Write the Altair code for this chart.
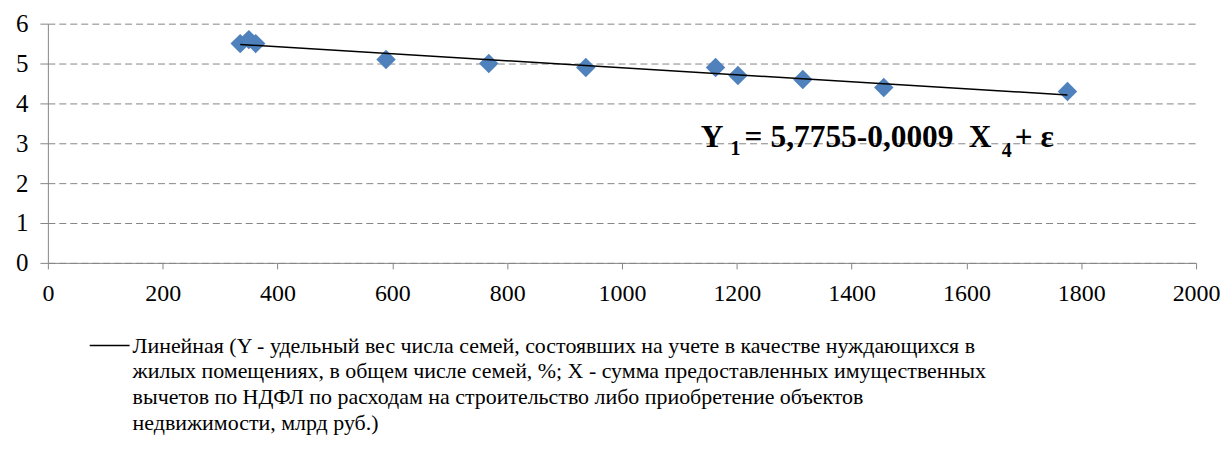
import altair as alt
import pandas as pd

# ---- data ----
x_vals = [335, 350, 362, 589, 768, 937, 1163, 1202, 1315, 1456, 1776]
y_vals = [5.5, 5.6, 5.5, 5.1, 5.0, 4.9, 4.9, 4.7, 4.6, 4.4, 4.3]
x_ticks = [0, 200, 400, 600, 800, 1000, 1200, 1400, 1600, 1800, 2000]
y_ticks = [0, 1, 2, 3, 4, 5, 6]
legend_lines = [
    "Линейная (Y - удельный вес числа семей, состоявших на учете в качестве нуждающихся в",
    "жилых помещениях, в общем числе семей, %; X - сумма предоставленных имущественных",
    "вычетов по НДФЛ по расходам на строительство либо приобретение объектов",
    "недвижимости, млрд руб.)",
]
eq_parts = ["Y", "1", "=", "5,7755-0,0009", "X", "4", "+ ε"]

df = pd.DataFrame({"x": x_vals, "y": y_vals})

FONT = "Liberation Serif"
GRAY = "#868686"
W, H = 1152, 240

x_axis = alt.Axis(values=x_ticks, title=None, grid=False, tickSize=6,
                  labelPadding=13, labelFontSize=24, labelFont=FONT,
                  labelColor="black", domainColor=GRAY, tickColor=GRAY,
                  labelFlush=False, labelOverlap=False, format="d")
y_axis = alt.Axis(values=y_ticks, title=None, grid=True, gridDash=[7, 4],
                  gridColor=GRAY, gridWidth=1, tickSize=8, labelPadding=12,
                  labelFontSize=25, labelFont=FONT, labelColor="black",
                  domainColor=GRAY, tickColor=GRAY, labelOverlap=False,
                  labelFlush=False, format="d")
x_scale = alt.Scale(domain=[0, 2000], nice=False)
y_scale = alt.Scale(domain=[0, 6], nice=False)

points = alt.Chart(df).mark_point(
    shape="diamond", filled=True, size=380, color="#4F81BD", opacity=1
).encode(x=alt.X("x:Q", scale=x_scale, axis=x_axis),
         y=alt.Y("y:Q", scale=y_scale, axis=y_axis))

trend = alt.Chart(df).transform_regression("x", "y").mark_line(
    color="black", strokeWidth=1.5
).encode(x=alt.X("x:Q", scale=x_scale, axis=x_axis),
         y=alt.Y("y:Q", scale=y_scale, axis=y_axis))

# equation annotation pieces (x, baseline y in plot pixels, size)
eq_layout = [
    (655, 124, 31.5), (685, 132, 20), (699, 124, 31.5), (725, 124, 31.5),
    (924, 124, 31.5), (957, 134, 20), (970, 124, 31.5),
]
eq_layers = []
for part, (px, py, fs) in zip(eq_parts, eq_layout):
    eq_layers.append(
        alt.Chart(pd.DataFrame({"t": [part]})).mark_text(
            font=FONT, fontWeight="bold", fontSize=fs, align="left",
            baseline="alphabetic", color="black"
        ).encode(x=alt.value(px), y=alt.value(py), text="t:N")
    )

leg_line = alt.Chart(pd.DataFrame({"a": [0]})).mark_rule(
    color="black", strokeWidth=1.5
).encode(x=alt.value(42), x2=alt.value(82), y=alt.value(323))

leg_text = alt.Chart(pd.DataFrame({"t": ["\n".join(legend_lines)]})).mark_text(
    font=FONT, fontSize=22, align="left", baseline="middle", lineBreak="\n",
    lineHeight=26, color="black"
).encode(x=alt.value(85), y=alt.value(323), text="t:N")

chart = alt.layer(points, trend, *eq_layers, leg_line, leg_text).properties(
    width=W, height=H,
    autosize=alt.AutoSizeParams(type="none"),
    padding={"left": 40, "top": 15, "right": 24, "bottom": 183},
).configure_view(stroke=None)

chart.save("out.html", embed_options={"renderer": "svg", "actions": False})
